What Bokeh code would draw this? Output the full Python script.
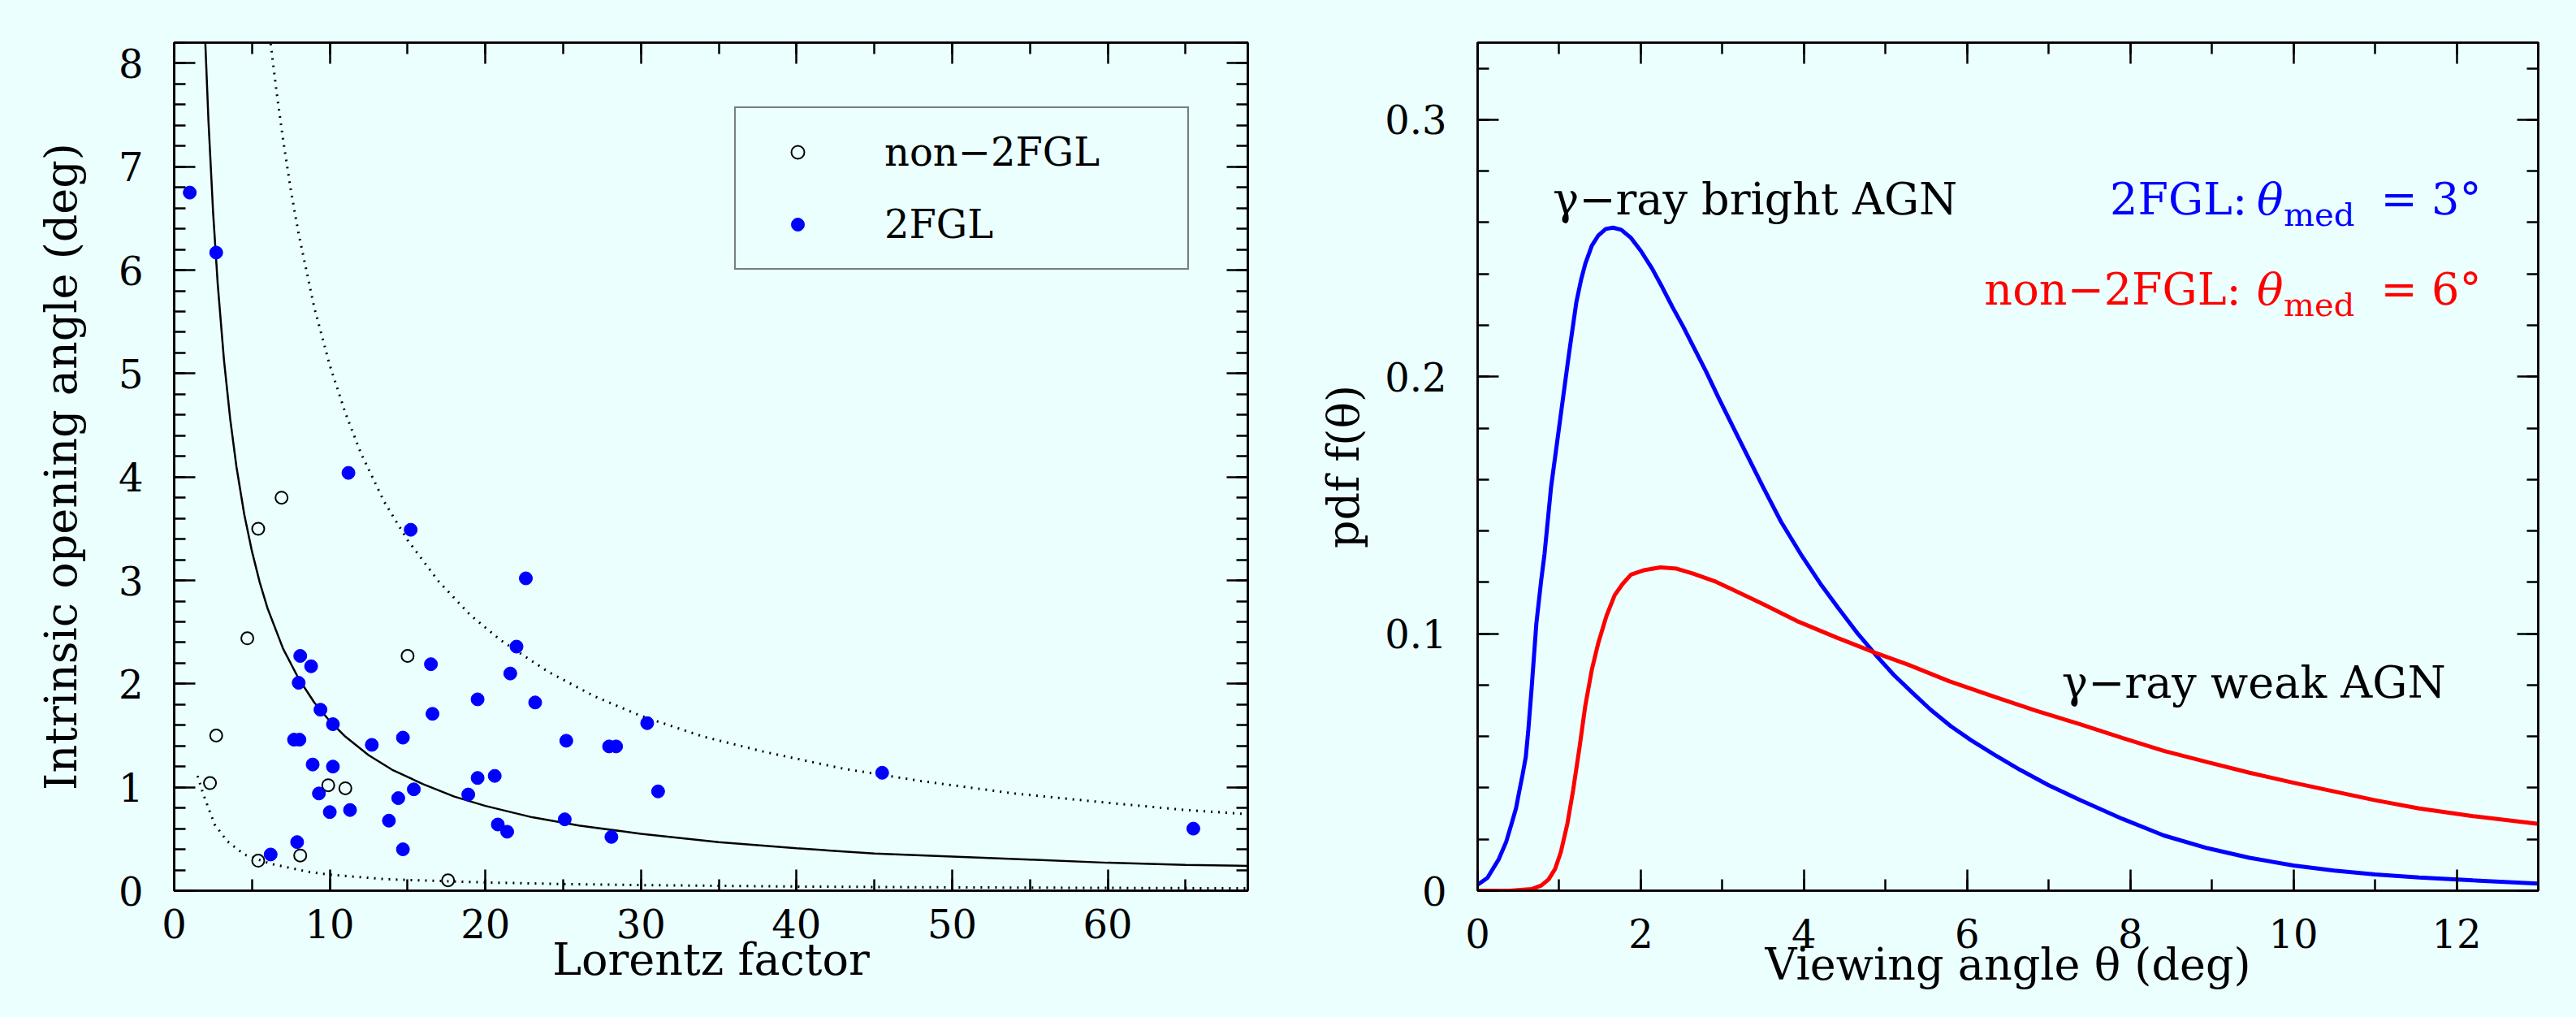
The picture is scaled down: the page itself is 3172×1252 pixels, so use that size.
from bokeh.plotting import figure
from bokeh.layouts import row
from bokeh.models import (Range1d, LinearAxis, SingleIntervalTicker, Legend, LegendItem,
                          Label, CustomJSTickFormatter)
from bokeh.embed import file_html
from bokeh.resources import INLINE

BG = "#EBFFFF"
FONT = "DejaVu Serif"
BLUE = "#0000FF"
RED = "#FF0000"

# ---------------- left panel data ----------------
fgl_gamma = [1.0, 2.7, 11.2, 15.2, 22.6, 22.0, 8.1, 8.8, 16.5, 21.6, 8.0, 19.5, 23.2, 9.4,
             16.6, 10.2, 30.4, 7.7, 8.05, 14.7, 25.2, 12.7, 27.95, 28.4, 8.9, 10.2, 19.5,
             20.6, 15.4, 9.3, 18.9, 14.4, 10.0, 11.3, 13.8, 25.1, 20.8, 21.4, 28.1, 7.9,
             14.7, 6.2, 31.1, 45.5, 65.5]
fgl_angle = [6.75, 6.17, 4.04, 3.49, 3.02, 2.36, 2.27, 2.17, 2.19, 2.10, 2.01, 1.85, 1.82, 1.75,
             1.71, 1.61, 1.62, 1.46, 1.46, 1.48, 1.45, 1.41, 1.395, 1.395, 1.22, 1.20, 1.09,
             1.11, 0.98, 0.94, 0.93, 0.895, 0.76, 0.78, 0.677, 0.69, 0.64, 0.57, 0.52, 0.47,
             0.40, 0.35, 0.96, 1.14, 0.60]

non_gamma = [6.9, 5.4, 4.7, 15.0, 2.7, 2.3, 9.9, 11.0, 8.1, 5.4, 17.6]
non_angle = [3.80, 3.50, 2.44, 2.27, 1.50, 1.04, 1.02, 0.99, 0.34, 0.29, 0.10]

# model curves
solid_g = [2.0, 2.2, 2.5, 2.8, 3.2, 3.6, 4.0, 4.5, 5.0, 5.5, 6.0, 7.0, 8.0, 9.0, 10.0, 11.0,
           12.5, 14.0, 16.0, 18.0, 20.0, 23.0, 26.0, 30.0, 35.0, 40.0, 45.0, 50.0, 55.0,
           60.0, 65.0, 69.0]
solid_a = [8.2, 7.45, 6.56, 5.86, 5.13, 4.56, 4.10, 3.64, 3.28, 2.98, 2.73, 2.34, 2.05, 1.82,
           1.64, 1.49, 1.31, 1.17, 1.03, 0.91, 0.82, 0.71, 0.63, 0.55, 0.47, 0.41, 0.36, 0.33,
           0.30, 0.27, 0.25, 0.24]

upper_g = [6.2, 6.6, 7.0, 7.5, 8.0, 9.0, 10.0, 11.0, 12.0, 13.5, 15.0, 17.0, 19.0, 21.0, 24.0,
           27.0, 30.0, 34.0, 38.0, 43.0, 48.0, 54.0, 60.0, 65.0, 69.0]
upper_a = [8.19, 7.70, 7.26, 6.77, 6.35, 5.64, 5.08, 4.62, 4.23, 3.76, 3.39, 2.99, 2.67, 2.42,
           2.12, 1.88, 1.69, 1.49, 1.34, 1.18, 1.06, 0.94, 0.85, 0.78, 0.74]

lower_g = [1.5, 1.9, 2.6, 3.4, 4.5, 6.2, 8.7, 10.0, 13.7, 17.0, 20.0, 25.0, 30.0, 40.0, 50.0,
           60.0, 69.0]
lower_a = [1.11, 0.92, 0.64, 0.48, 0.35, 0.26, 0.18, 0.155, 0.11, 0.094, 0.08, 0.064, 0.054,
           0.04, 0.032, 0.027, 0.023]

# ---------------- right panel data ----------------
blue_theta = [0.0, 0.12, 0.26, 0.35, 0.41, 0.47, 0.51, 0.55, 0.59, 0.62, 0.66, 0.72, 0.78,
              0.82, 0.90, 1.01, 1.12, 1.21, 1.27, 1.32, 1.40, 1.48, 1.57, 1.66, 1.76, 1.88,
              2.0, 2.14, 2.26, 2.39, 2.52, 2.64, 2.80, 2.95, 3.20, 3.50, 3.72, 3.96, 4.20,
              4.42, 4.66, 4.90, 5.10, 5.33, 5.55, 5.80, 6.05, 6.33, 6.65, 7.0, 7.37, 7.9,
              8.41, 8.95, 9.46, 10.0, 10.5, 11.0, 11.54, 12.2, 13.0]
blue_pdf = [0.0023, 0.005, 0.0123, 0.019, 0.0254, 0.032, 0.0386, 0.045, 0.052, 0.062, 0.078,
            0.104, 0.121, 0.131, 0.157, 0.183, 0.209, 0.229, 0.238, 0.244, 0.251, 0.255,
            0.2575, 0.258, 0.2572, 0.254, 0.249, 0.242, 0.235, 0.227, 0.2195, 0.212, 0.202,
            0.192, 0.176, 0.157, 0.1435, 0.131, 0.1195, 0.110, 0.100, 0.091, 0.084, 0.077,
            0.0705, 0.064, 0.0585, 0.053, 0.047, 0.041, 0.0355, 0.028, 0.0215, 0.0165,
            0.0128, 0.0098, 0.0078, 0.0063, 0.0051, 0.004, 0.0028]

red_theta = [0.0, 0.40, 0.66, 0.78, 0.87, 0.95, 1.02, 1.10, 1.17, 1.25, 1.32, 1.40, 1.48,
             1.58, 1.68, 1.78, 1.88, 2.05, 2.24, 2.44, 2.64, 2.90, 3.15, 3.50, 3.91, 4.40,
             4.88, 5.28, 5.78, 6.33, 6.85, 7.37, 7.9, 8.41, 8.95, 9.46, 10.0, 10.5, 11.0,
             11.54, 12.2, 13.0]
red_pdf = [0.0, 0.0, 0.0006, 0.002, 0.0044, 0.0085, 0.015, 0.026, 0.039, 0.056, 0.072, 0.086,
           0.0965, 0.107, 0.115, 0.1195, 0.123, 0.1248, 0.1258, 0.1253, 0.1234, 0.1205,
           0.1168, 0.1115, 0.105, 0.0985, 0.0925, 0.0879, 0.0815, 0.0755, 0.070, 0.0649,
           0.0595, 0.0544, 0.050, 0.0459, 0.042, 0.0386, 0.0352, 0.032, 0.029, 0.026]


def blank_formatter():
    return CustomJSTickFormatter(code="return '';")


def style_frame(p, xint, xminor, yint, yminor, xlabel, ylabel,
                xstand, ystand, xlab_stand, ylab_stand):
    p.grid.visible = False
    p.outline_line_color = "black"
    p.outline_line_width = 2.5
    bottom = p.below[0]
    left = p.left[0]
    bottom.ticker = SingleIntervalTicker(interval=xint, num_minor_ticks=xminor)
    left.ticker = SingleIntervalTicker(interval=yint, num_minor_ticks=yminor)
    top = LinearAxis(ticker=SingleIntervalTicker(interval=xint, num_minor_ticks=xminor),
                     formatter=blank_formatter())
    right = LinearAxis(ticker=SingleIntervalTicker(interval=yint, num_minor_ticks=yminor),
                       formatter=blank_formatter())
    p.add_layout(top, "above")
    p.add_layout(right, "right")
    for ax in [bottom, left, top, right]:
        ax.axis_line_color = "black"
        ax.axis_line_width = 2.5
        ax.major_tick_line_color = "black"
        ax.minor_tick_line_color = "black"
        ax.major_tick_line_width = 2.5
        ax.minor_tick_line_width = 2.5
        ax.major_tick_in = 26
        ax.major_tick_out = 0
        ax.minor_tick_in = 14
        ax.minor_tick_out = 0
        ax.major_label_text_font = FONT
        ax.major_label_text_font_size = "48px"
        ax.major_label_text_color = "black"
        ax.axis_label_text_font = FONT
        ax.axis_label_text_font_size = "54px"
        ax.axis_label_text_font_style = "normal"
        ax.axis_label_text_color = "black"
        ax.axis_label_text_line_height = 1.0
    for ax in [top, right]:
        ax.major_label_text_font_size = "1px"
        ax.major_label_standoff = 0
    bottom.axis_label = xlabel
    left.axis_label = ylabel
    bottom.major_label_standoff = xstand
    left.major_label_standoff = ystand
    bottom.axis_label_standoff = xlab_stand
    left.axis_label_standoff = ylab_stand
    return bottom, left


# ---------------- left figure ----------------
p1 = figure(width=1608, height=1252, x_range=Range1d(0, 69), y_range=Range1d(0, 8.2),
            output_backend="svg", toolbar_location=None,
            min_border_left=214, min_border_right=72, min_border_top=44, min_border_bottom=150,
            background_fill_color=BG, border_fill_color=BG)
style_frame(p1, 10, 2, 1, 5, "Lorentz factor", "Intrinsic opening angle (deg)",
            22, 38, -8, 36)

p1.line(solid_g, solid_a, line_color="black", line_width=2.5)
p1.line(upper_g, upper_a, line_color="black", line_width=3, line_dash="2 7")
p1.line(lower_g, lower_a, line_color="black", line_width=3, line_dash="2 7")

r_non = p1.scatter(non_gamma, non_angle, marker="circle", size=15, fill_color=None,
                   line_color="black", line_width=2)
r_fgl = p1.scatter(fgl_gamma, fgl_angle, marker="circle", size=16, fill_color=BLUE,
                   line_color=BLUE, line_width=1)

legend = Legend(items=[LegendItem(label="non\u22122FGL", renderers=[r_non]),
                       LegendItem(label="2FGL", renderers=[r_fgl])],
                location=(690, 764), padding=26, spacing=33, glyph_height=40,
                glyph_width=100, label_standoff=57, label_width=347, label_height=40,
                border_line_color="black", border_line_width=2.5,
                background_fill_color=BG, background_fill_alpha=1.0,
                label_text_font=FONT, label_text_font_size="48px",
                label_text_color="black", margin=0)
p1.add_layout(legend, "center")

# ---------------- right figure ----------------
p2 = figure(width=1564, height=1252, x_range=Range1d(0, 13), y_range=Range1d(0, 0.33),
            output_backend="svg", toolbar_location=None,
            min_border_left=211, min_border_right=47, min_border_top=52, min_border_bottom=156,
            background_fill_color=BG, border_fill_color=BG)
b2, l2 = style_frame(p2, 2, 2, 0.1, 5, "Viewing angle \u03b8 (deg)", "pdf f(\u03b8)",
                     34, 38, -14, 16)
l2.major_label_overrides = {0: "0"}

p2.line(blue_theta, blue_pdf, line_color=BLUE, line_width=5)
p2.line(red_theta, red_pdf, line_color=RED, line_width=5)


def lab(p, x, y, text, color="black", size="54px", style="normal", align="left"):
    p.add_layout(Label(x=x, y=y, text=text, text_font=FONT, text_font_size=size,
                       text_color=color, text_font_style=style, text_align=align,
                       text_baseline="alphabetic"))


lab(p2, 0.92, 0.269, "\u03b3\u2212ray bright AGN")
lab(p2, 7.16, 0.081, "\u03b3\u2212ray weak AGN")
# blue annotation
lab(p2, 7.75, 0.269, "2FGL:", BLUE)
lab(p2, 9.55, 0.269, "\u03b8", BLUE, style="italic")
lab(p2, 9.88, 0.263, "med", BLUE, size="40px")
lab(p2, 11.07, 0.269, "= 3\u00b0", BLUE)
# red annotation
lab(p2, 6.21, 0.234, "non\u22122FGL:", RED)
lab(p2, 9.55, 0.234, "\u03b8", RED, style="italic")
lab(p2, 9.88, 0.228, "med", RED, size="40px")
lab(p2, 11.07, 0.234, "= 6\u00b0", RED)

layout = row(p1, p2)
html = file_html(layout, INLINE)
html = html.replace("<body>", '<body style="background-color:%s;">' % BG)
open("out.html", "w").write(html)
